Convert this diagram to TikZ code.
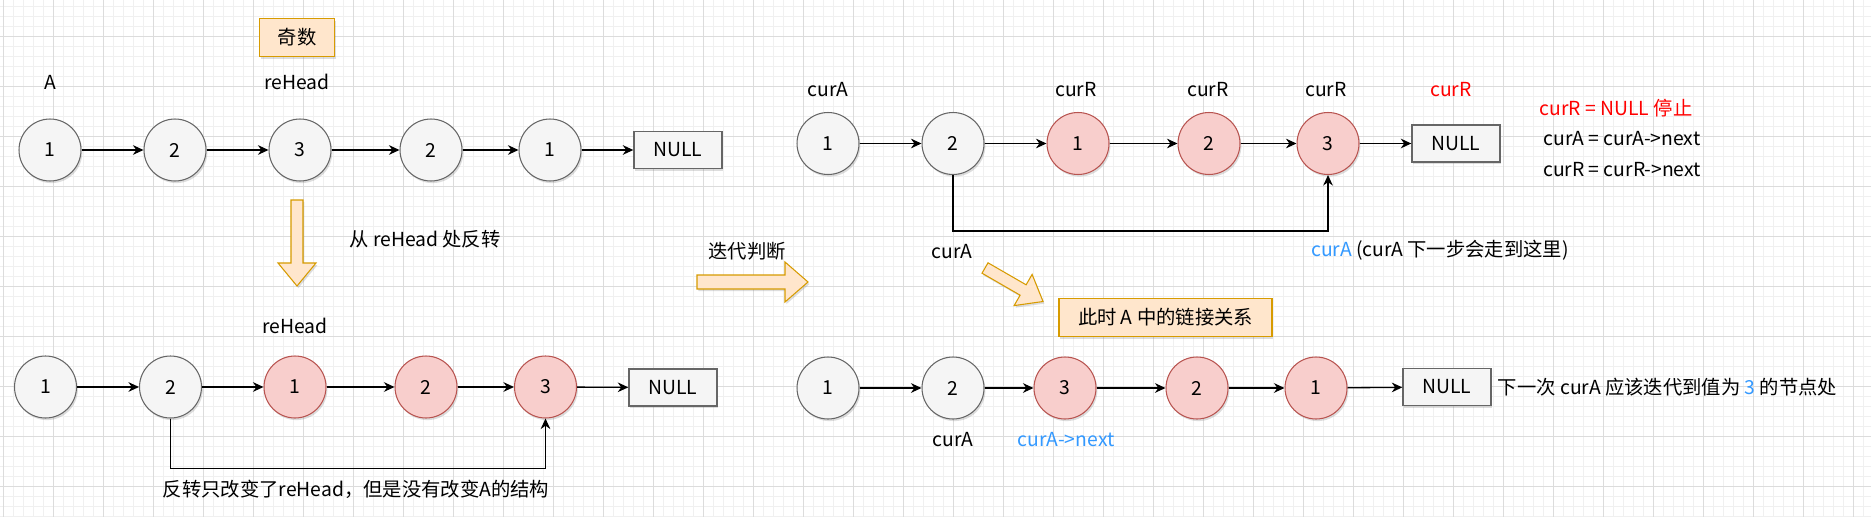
\documentclass[tikz,border=0pt]{standalone}
\usepackage{fontspec}
\setmainfont{Noto Sans CJK SC}
\usepackage{tikz}
\usetikzlibrary{arrows.meta,shadows}

\definecolor{gfill}{HTML}{F5F5F5}
\definecolor{gline}{HTML}{666666}
\definecolor{rfill}{HTML}{F8CECC}
\definecolor{rline}{HTML}{B85450}
\definecolor{ofill}{HTML}{FFE6CC}
\definecolor{oline}{HTML}{D79B00}
\definecolor{hlblue}{HTML}{3399FF}
\definecolor{hlred}{HTML}{FF0000}
\definecolor{gridmin}{HTML}{F0F0F0}
\definecolor{gridmaj}{HTML}{DCDCDC}

\begin{document}
\begin{tikzpicture}[x=0.02cm, y=-0.02cm, >={Stealth[length=6pt,width=5.5pt]}, font=\fontsize{11pt}{13pt}\selectfont]
	\tikzset{shd/.style={drop shadow={shadow xshift=0.8pt, shadow yshift=-1.2pt, opacity=0.22, fill=black!60}}}
	\tikzset{nd/.style={circle, draw=gline, fill=gfill, line width=0.6pt, minimum size=1.24cm, inner sep=0pt, shd}}
	\tikzset{rd/.style={nd, draw=rline, fill=rfill}}
	\tikzset{nul/.style={rectangle, draw=gline, fill=gfill, line width=0.8pt, minimum width=1.76cm, minimum height=0.74cm, inner sep=0pt, shd}}
	\tikzset{note/.style={rectangle, draw=oline, fill=ofill, line width=0.8pt, minimum height=0.76cm, inner sep=0pt, shd}}
	\tikzset{barrow/.style={draw=oline, fill=ofill, line width=0.6pt, line join=miter, shd}}
	\tikzset{lk/.style={->, line width=0.75pt}}
	% background and grid
	\useasboundingbox[fill=white] (0,0) rectangle (1871,517);
	\foreach \i in {3,13,...,1871} \draw[gridmin, line width=0.5pt] (\i,0) -- (\i,517);
	\foreach \j in {6,16,...,517} \draw[gridmin, line width=0.5pt] (0,\j) -- (1871,\j);
	\foreach \i in {3,53,...,1871} \draw[gridmaj, line width=0.5pt] (\i,0) -- (\i,517);
	\foreach \j in {36,86,...,517} \draw[gridmaj, line width=0.5pt] (0,\j) -- (1871,\j);
	% odd list
	\node[note, minimum width=1.5cm] (odd) at (297,37.5) {奇数};
	\node (la) at (50,82) {A};
	\node (lrh) at (297,82) {reHead};
	\node[nd] (a1) at (50,150) {1};
	\node[nd] (a2) at (175,150) {2};
	\node[nd] (a3) at (300,150) {3};
	\node[nd] (a4) at (431,150) {2};
	\node[nd] (a5) at (550,150) {1};
	\node[nul] (anull) at (678,150) {NULL};
	\draw[lk] (a1) -- (a2); \draw[lk] (a2) -- (a3); \draw[lk] (a3) -- (a4);
	\draw[lk] (a4) -- (a5); \draw[lk] (a5) -- (anull);
	% reverse from reHead
	\draw[barrow] (291,200) -- (303,200) -- (303,263) -- (316,263) -- (297,286) -- (278,263) -- (291,263) -- cycle;
	\node (lrev) at (425,239) {从 reHead 处反转};
	\node (lrh2) at (295,326) {reHead};
	\node[nd] (rv1) at (45.5,387) {1};
	\node[nd] (rv2) at (170.5,387) {2};
	\node[rd] (rv3) at (295,387) {1};
	\node[rd] (rv4) at (426,387) {2};
	\node[rd] (rv5) at (545.5,387) {3};
	\node[nul] (rvnull) at (673,387.5) {NULL};
	\draw[lk] (rv1) -- (rv2); \draw[lk] (rv2) -- (rv3); \draw[lk] (rv3) -- (rv4);
	\draw[lk] (rv4) -- (rv5); \draw[lk] (rv5) -- (rvnull);
	\draw[lk] (rv2.south) -- ++(0,50) -| (rv5.south);
	\node (lcap) at (356,489) {反转只改变了reHead，但是没有改变A的结构};
	% iterate
	\node (liter) at (747,251) {迭代判断};
	\draw[barrow] (697,275) -- (785,275) -- (785,262) -- (808,282) -- (785,302) -- (785,289) -- (697,289) -- cycle;
	\node (lca) at (828,90) {curA};
	\node (lcr1) at (1076,90) {curR};
	\node (lcr2) at (1208,90) {curR};
	\node (lcr3) at (1326,90) {curR};
	\node[text=hlred] (lcr4) at (1451,90) {curR};
	\node[nd] (it1) at (828,143.5) {1};
	\node[nd] (it2) at (953,143.5) {2};
	\node[rd] (it3) at (1078,143.5) {1};
	\node[rd] (it4) at (1209,143.5) {2};
	\node[rd] (it5) at (1328,143.5) {3};
	\node[nul] (itnull) at (1456,143.5) {NULL};
	\draw[lk] (it1) -- (it2); \draw[lk] (it2) -- (it3); \draw[lk] (it3) -- (it4);
	\draw[lk] (it4) -- (it5); \draw[lk] (it5) -- (itnull);
	\draw[lk] (it2.south) -- ++(0,56) -| (it5.south);
	\node[text=hlred] (lstop) at (1616,108) {curR = NULL 停止};
	\node (lnexta) at (1622,139) {curA = curA->next};
	\node (lnextr) at (1622,170) {curR = curR->next};
	\node (lca2) at (952,252) {curA};
	\node[anchor=west] (lhere) at (1305,250) {\textcolor{hlblue}{curA} (curA 下一步会走到这里)};
	% links in A
	\begin{scope}[shift={(985,268)}, rotate=-30]
		\draw[barrow] (0,-6) -- (44,-6) -- (44,-18) -- (67,0) -- (44,18) -- (44,6) -- (0,6) -- cycle;
	\end{scope}
	\node[note, minimum width=4.26cm] (links) at (1165.5,317.5) {此时 A 中的链接关系};
	\node[nd] (nx1) at (828,388) {1};
	\node[nd] (nx2) at (953,388) {2};
	\node[rd] (nx3) at (1065,388) {3};
	\node[rd] (nx4) at (1197,388) {2};
	\node[rd] (nx5) at (1316,388) {1};
	\node[nul] (nxnull) at (1447,387) {NULL};
	\draw[lk] (nx1) -- (nx2); \draw[lk] (nx2) -- (nx3); \draw[lk] (nx3) -- (nx4);
	\draw[lk] (nx4) -- (nx5); \draw[lk] (nx5) -- (nxnull);
	\node (lca3) at (953,440) {curA};
	\node[text=hlblue] (lcanext) at (1066,440) {curA->next};
	\node[anchor=west] (lnext) at (nxnull.east) {下一次 curA 应该迭代到值为 \textcolor{hlblue}{3} 的节点处};
\end{tikzpicture}
\end{document}
